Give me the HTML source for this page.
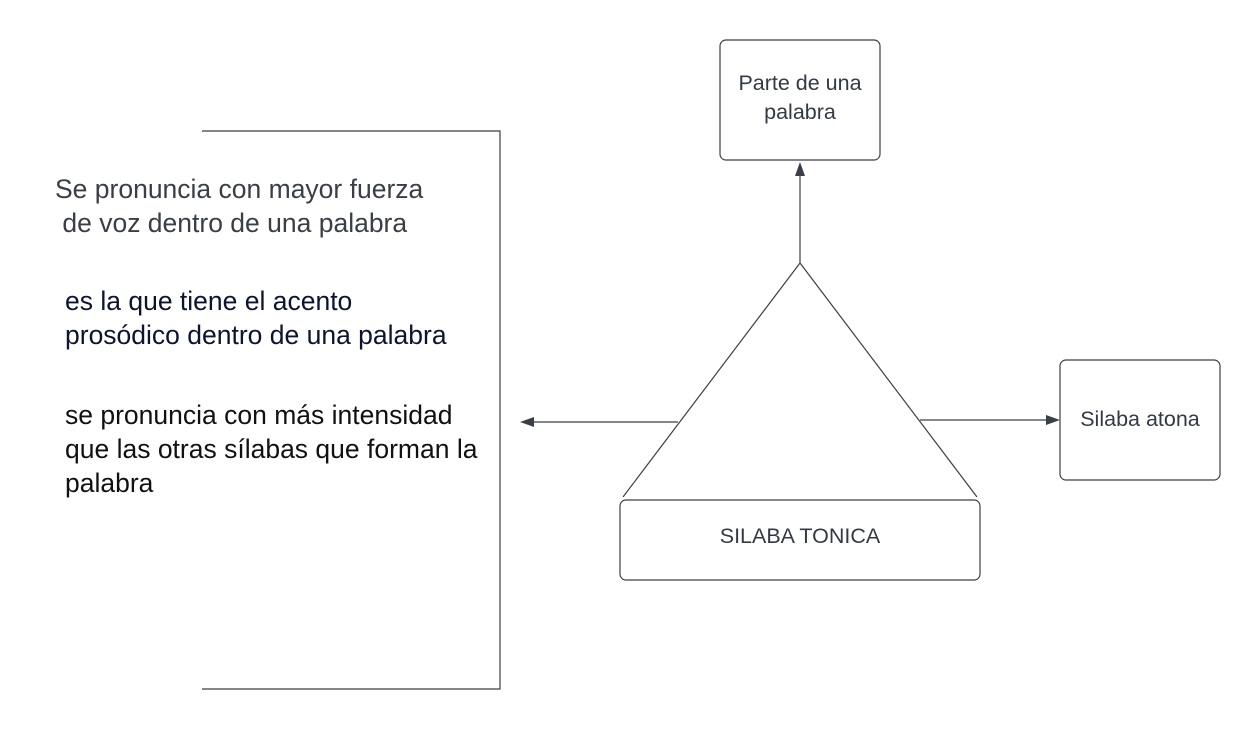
<!DOCTYPE html>
<html><head><meta charset="utf-8"><style>
body{margin:0;width:1260px;height:730px;background:#fff;overflow:hidden;position:relative;font-family:"Liberation Sans",sans-serif}
.t{position:absolute;font-size:26.5px;line-height:34px;white-space:pre;}
</style></head><body>
<svg width="1260" height="730" style="position:absolute;left:0;top:0" xmlns="http://www.w3.org/2000/svg">
<g fill="none" stroke="#3a3f47" stroke-width="1.2">
<polyline points="202,131 500,131 500,689 202,689"/>
<rect x="720" y="40" width="160" height="120" rx="6"/>
<rect x="1060" y="360" width="160" height="120" rx="6"/>
<rect x="620" y="500" width="360" height="80" rx="6"/>
<path d="M623,497 L800,263 L977,497"/>
<line x1="800" y1="263" x2="800" y2="176"/>
<line x1="920" y1="420" x2="1046" y2="420"/>
<line x1="678" y1="422" x2="534" y2="422"/>
</g>
<g fill="#3a3f47">
<polygon points="800,162 795,176 805,176"/>
<polygon points="1060,420 1046,415 1046,425"/>
<polygon points="520,422 534,417 534,427"/>
</g>
<g font-family="Liberation Sans, sans-serif" fill="#333a44" text-anchor="middle" font-size="21.5">
<text x="800" y="90">Parte de una</text>
<text x="800" y="119">palabra</text>
<text x="1140" y="426">Silaba atona</text>
<text x="800" y="543">SILABA TONICA</text>
</g>
</svg>
<div class="t" style="left:55px;top:172px;color:#3a3f47">Se pronuncia con mayor fuerza
 de voz dentro de una palabra</div>
<div class="t" style="left:65px;top:284px;color:#0d1330">es la que tiene el acento
prosódico dentro de una palabra</div>
<div class="t" style="left:65px;top:398px;color:#111">se pronuncia con más intensidad
que las otras sílabas que forman la
palabra</div>
</body></html>
